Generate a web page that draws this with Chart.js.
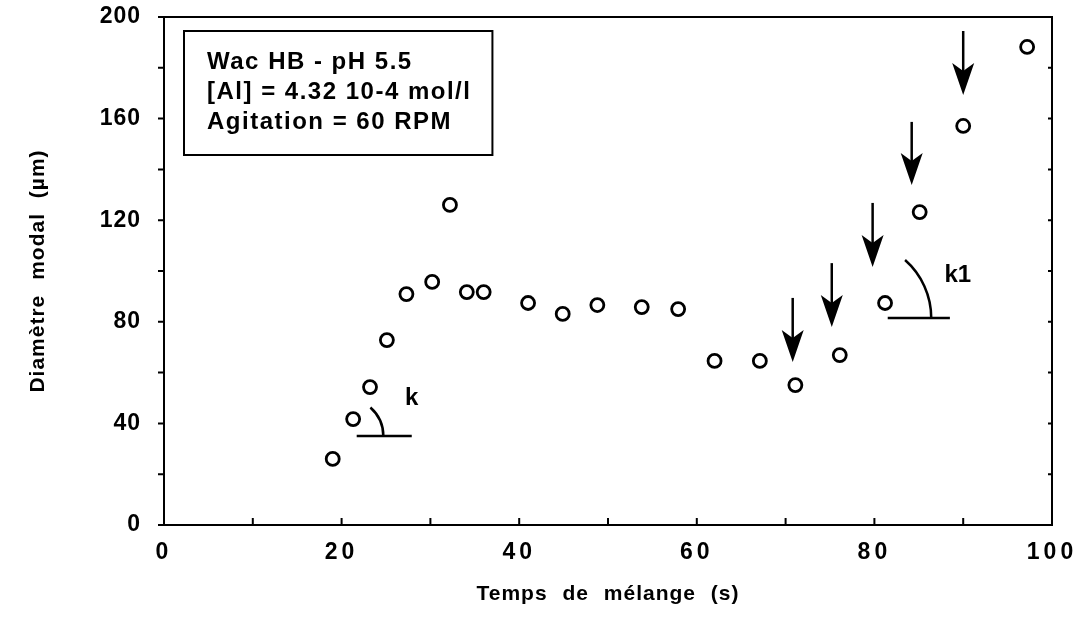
<!DOCTYPE html>
<html>
<head>
<meta charset="utf-8">
<script src="https://cdn.jsdelivr.net/npm/chart.js@4.4.1/dist/chart.umd.min.js"></script>
<style>
  html, body { margin: 0; padding: 0; background: #fff; }
  #wrap { width: 1084px; height: 634px; }
</style>
</head>
<body>
<div id="wrap"><canvas id="canvasID" width="1084" height="634"></canvas></div>
<script>
// mixing time (s) vs modal diameter (um)
const timeS = [19.0, 21.3, 23.2, 25.1, 27.3, 30.2, 32.2, 34.1, 36.0, 41.0, 44.9, 48.8, 53.8, 57.9, 62.0, 67.1, 71.1, 76.1, 81.2, 85.1, 90.0, 97.2]
const diam = [26.0, 41.7, 54.3, 72.8, 90.9, 95.7, 126.0, 91.7, 91.7, 87.4, 83.1, 86.6, 85.8, 85.0, 64.6, 64.6, 55.1, 66.9, 87.4, 123.2, 157.1, 188.2]

// arrows pointing at the last points (x, shaft top, tip) in data units
const arrowX = [70.8, 75.2, 79.8, 84.2, 90.0]
const arrowTop = [89.4, 103.1, 126.8, 158.7, 194.5]
const arrowTip = [64.2, 78.0, 101.6, 133.9, 169.3]

// slope marks k and k1
const slopeLabels = ['k', 'k1']
const slopeLineX0 = [21.7, 81.5]
const slopeLineX1 = [27.9, 88.5]
const slopeLineY = [35.0, 81.5]
const slopeArcCx = [20.4, 77.7]
const slopeArcX1 = [24.7, 86.4]
const slopeLabelX = [27.9, 89.4]
const slopeLabelY = [50.0, 98.4]

const infoLines = ['Wac HB - pH 5.5', '[Al] = 4.32 10-4 mol/l', 'Agitation = 60 RPM']

const FONT = "'Liberation Sans', Arial, Helvetica, sans-serif"

const decorations = {
  id: 'decorations',
  beforeDraw(chart) {
    // axis titles + y labels
    chart.ctx.wordSpacing = '8px'
    chart.ctx.letterSpacing = '1px'
  },
  beforeDatasetsDraw(chart) {
    chart.ctx.wordSpacing = '0px'
    chart.ctx.letterSpacing = '0px'
  },
  afterDatasetsDraw(chart) {
    const { ctx, chartArea: a, scales: { x, y } } = chart
    ctx.save()
    ctx.strokeStyle = '#000'
    ctx.fillStyle = '#000'
    ctx.lineWidth = 2
    ctx.strokeRect(a.left, a.top, a.right - a.left, a.bottom - a.top)

    // tick marks
    ctx.beginPath()
    x.ticks.forEach((t) => {
      const px = x.getPixelForValue(t.value)
      ctx.moveTo(px, a.bottom)
      ctx.lineTo(px, a.bottom - 7)
    })
    y.ticks.forEach((t) => {
      const py = y.getPixelForValue(t.value)
      ctx.moveTo(a.left, py)
      ctx.lineTo(a.left - 6, py)
      ctx.moveTo(a.right, py)
      ctx.lineTo(a.right - 4, py)
    })
    ctx.stroke()

    // arrows
    arrowX.forEach((v, i) => {
      const px = x.getPixelForValue(v)
      const top = y.getPixelForValue(arrowTop[i])
      const tip = y.getPixelForValue(arrowTip[i])
      ctx.lineWidth = 2.5
      ctx.beginPath()
      ctx.moveTo(px, top)
      ctx.lineTo(px, tip - 12)
      ctx.stroke()
      ctx.beginPath()
      ctx.moveTo(px, tip)
      ctx.lineTo(px - 11, tip - 32)
      ctx.lineTo(px, tip - 24)
      ctx.lineTo(px + 11, tip - 32)
      ctx.closePath()
      ctx.fill()
    })

    // slope marks
    ctx.lineWidth = 2.5
    ctx.font = 'bold 24px ' + FONT
    ctx.textAlign = 'center'
    ctx.textBaseline = 'middle'
    slopeLabels.forEach((lab, i) => {
      const ly = y.getPixelForValue(slopeLineY[i])
      ctx.beginPath()
      ctx.moveTo(x.getPixelForValue(slopeLineX0[i]), ly)
      ctx.lineTo(x.getPixelForValue(slopeLineX1[i]), ly)
      ctx.stroke()
      const cx = x.getPixelForValue(slopeArcCx[i])
      const r = x.getPixelForValue(slopeArcX1[i]) - cx
      ctx.beginPath()
      ctx.arc(cx, ly, r, -Math.PI * 0.27, 0)
      ctx.stroke()
      ctx.fillText(lab, x.getPixelForValue(slopeLabelX[i]), y.getPixelForValue(slopeLabelY[i]))
    })

    // info box
    ctx.font = 'bold 24px ' + FONT
    ctx.letterSpacing = '1.5px'
    ctx.textAlign = 'left'
    const w = Math.max(...infoLines.map((s) => ctx.measureText(s).width))
    const bx = a.left + 20
    const by = a.top + 14
    ctx.lineWidth = 2
    ctx.strokeRect(bx, by, w + 44, 124)
    infoLines.forEach((s, i) => {
      ctx.fillText(s, bx + 23, by + 31 + i * 30)
    })
    ctx.restore()

    // x tick labels are drawn after this (ticks.z = 1), letter spaced
    ctx.letterSpacing = '4px'
  },
  afterDraw(chart) {
    chart.ctx.letterSpacing = '0px'
  },
}

new Chart(document.getElementById('canvasID'), {
  type: 'scatter',
  data: {
    datasets: [
      {
        data: timeS.map((t, i) => ({ x: t, y: diam[i] })),
        pointStyle: 'circle',
        pointRadius: 6.5,
        pointBorderWidth: 2.8,
        borderColor: '#000',
        backgroundColor: '#fff',
        pointHoverRadius: 6.5,
      },
    ],
  },
  options: {
    responsive: false,
    animation: false,
    layout: { padding: { left: 0, right: 32, top: 17, bottom: 0 } },
    scales: {
      x: {
        type: 'linear',
        min: 0,
        max: 100,
        grid: { display: false },
        border: { display: false },
        afterFit: (scale) => {
          scale.height = 109
          scale.paddingLeft = 0
          scale.paddingRight = 0
        },
        ticks: {
          stepSize: 10,
          autoSkip: false,
          maxRotation: 0,
          padding: 6,
          z: 1,
          color: '#000',
          font: { family: FONT, size: 23, weight: 'bold' },
          callback: (v) => (v % 20 === 0 ? v : ''),
        },
        title: {
          display: true,
          text: 'Temps de mélange (s)',
          color: '#000',
          font: { family: FONT, size: 21, weight: 'bold' },
          padding: { top: 0, bottom: 27 },
        },
      },
      y: {
        min: 0,
        max: 200,
        grid: { display: false },
        border: { display: false },
        afterFit: (scale) => {
          scale.width = 164
          scale.paddingTop = 0
          scale.paddingBottom = 0
        },
        ticks: {
          stepSize: 20,
          autoSkip: false,
          padding: 15,
          color: '#000',
          font: { family: FONT, size: 23, weight: 'bold' },
          callback: (v) => (v % 40 === 0 ? v : ''),
        },
        title: {
          display: true,
          text: 'Diamètre modal (µm)',
          color: '#000',
          font: { family: FONT, size: 21, weight: 'bold' },
          padding: { top: 26, bottom: 0 },
        },
      },
    },
    plugins: {
      legend: { display: false },
      tooltip: { enabled: false },
    },
  },
  plugins: [decorations],
})
</script>
</body>
</html>
